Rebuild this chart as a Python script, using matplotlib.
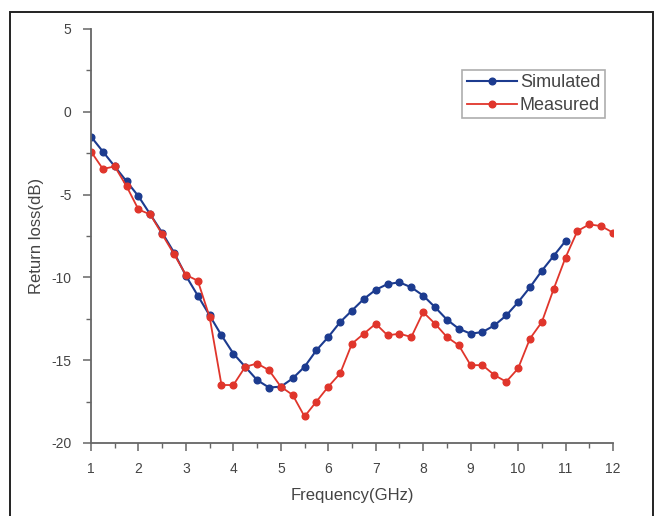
import matplotlib
matplotlib.use("Agg")
import matplotlib.pyplot as plt
from matplotlib.patches import Rectangle
from matplotlib.ticker import MultipleLocator

plt.rcParams['font.family'] = ['Liberation Sans', 'DejaVu Sans']
plt.rcParams['axes.unicode_minus'] = False

freq_sim = [1.0, 1.25, 1.5, 1.75, 2.0, 2.25, 2.5, 2.75, 3.0, 3.25, 3.5, 3.75, 4.0, 4.25,
            4.5, 4.75, 5.0, 5.25, 5.5, 5.75, 6.0, 6.25, 6.5, 6.75, 7.0, 7.25, 7.5, 7.75,
            8.0, 8.25, 8.5, 8.75, 9.0, 9.25, 9.5, 9.75, 10.0, 10.25, 10.5, 10.75, 11.0]
simulated = [-1.5, -2.4, -3.3, -4.2, -5.1, -6.2, -7.3, -8.5, -9.9, -11.1, -12.3, -13.5,
             -14.6, -15.4, -16.2, -16.65, -16.6, -16.1, -15.4, -14.4, -13.6, -12.7, -12.0,
             -11.3, -10.75, -10.4, -10.3, -10.6, -11.1, -11.8, -12.55, -13.1, -13.4, -13.3,
             -12.9, -12.3, -11.5, -10.6, -9.6, -8.7, -7.8]

freq_meas = [1.0, 1.25, 1.5, 1.75, 2.0, 2.25, 2.5, 2.75, 3.0, 3.25, 3.5, 3.75, 4.0, 4.25,
             4.5, 4.75, 5.0, 5.25, 5.5, 5.75, 6.0, 6.25, 6.5, 6.75, 7.0, 7.25, 7.5, 7.75,
             8.0, 8.25, 8.5, 8.75, 9.0, 9.25, 9.5, 9.75, 10.0, 10.25, 10.5, 10.75, 11.0,
             11.25, 11.5, 11.75, 12.0]
measured = [-2.4, -3.45, -3.3, -4.5, -5.9, -6.2, -7.4, -8.6, -9.85, -10.2, -12.4, -16.5,
            -16.5, -15.4, -15.2, -15.6, -16.6, -17.1, -18.4, -17.5, -16.6, -15.8, -14.0,
            -13.4, -12.8, -13.5, -13.4, -13.6, -12.1, -12.8, -13.6, -14.1, -15.3, -15.3,
            -15.9, -16.3, -15.5, -13.7, -12.7, -10.7, -8.8, -7.2, -6.8, -6.9, -7.3]

x_ticks = list(range(1, 13))
y_ticks = [-20, -15, -10, -5, 0, 5]

fig = plt.figure(figsize=(6.58, 5.16), dpi=100)
fig.patches.append(Rectangle((0.0152, -0.02), 0.9772, 0.9967, transform=fig.transFigure,
                             fill=False, edgecolor='#222222', linewidth=1.4))
ax = fig.add_axes([0.1383, 0.1415, 0.7933, 0.8023])

blue = '#1c3b8f'
red = '#e0352b'
ax.plot(freq_sim, simulated, color=blue, marker='o', markersize=4.8, linewidth=1.5,
        label='Simulated')
ax.plot(freq_meas, measured, color=red, marker='o', markersize=4.8, linewidth=1.3,
        label='Measured')

ax.set_xlim(1, 12)
ax.set_ylim(-20, 5)
ax.set_xticks(x_ticks)
ax.set_yticks(y_ticks)
ax.xaxis.set_minor_locator(MultipleLocator(0.5))
ax.yaxis.set_minor_locator(MultipleLocator(2.5))
for s in ['top', 'right']:
    ax.spines[s].set_visible(False)
for s in ['left', 'bottom']:
    ax.spines[s].set_color('#666666')
    ax.spines[s].set_linewidth(1.3)
ax.tick_params(which='major', direction='out', length=6, width=1.1, colors='#666666',
               labelcolor='#444444', labelsize=10, pad=8)
ax.tick_params(which='minor', direction='out', length=3.5, width=1.0, colors='#666666')

ax.set_xlabel('Frequency(GHz)', fontsize=12, color='#444444', labelpad=8)
ax.set_ylabel('Return loss(dB)', fontsize=12, color='#444444', labelpad=5)

leg = ax.legend(loc='upper left', bbox_to_anchor=(0.711, 0.901), fontsize=13,
                frameon=True, fancybox=False, edgecolor='#999999', handlelength=2.8,
                borderpad=0.25, labelspacing=0.3, handletextpad=0.15, borderaxespad=0)
leg.get_frame().set_linewidth(1.2)
for t in leg.get_texts():
    t.set_color('#444444')

fig.savefig('out.png', dpi=100)
